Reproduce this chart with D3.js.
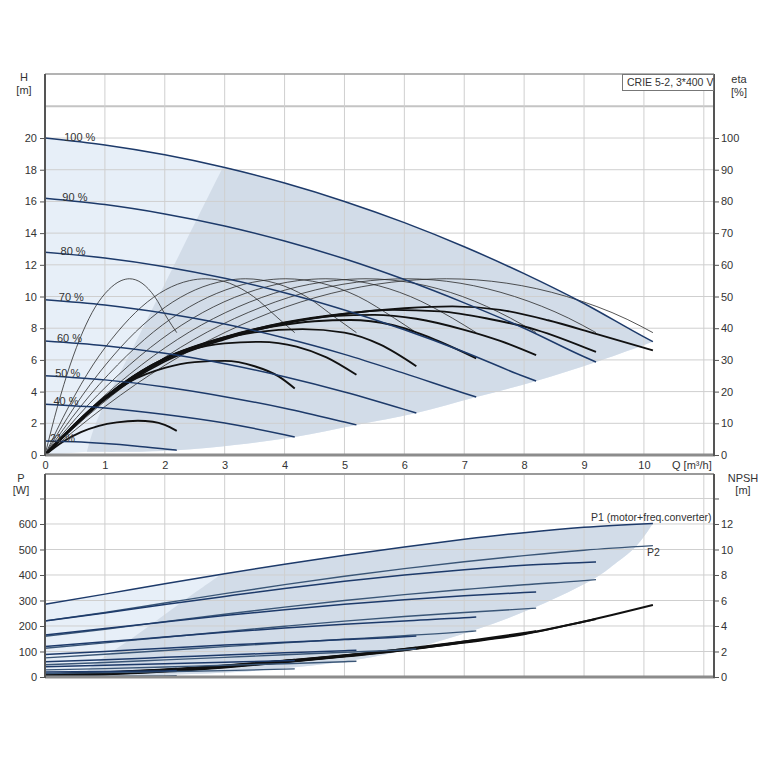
<!DOCTYPE html>
<html><head><meta charset="utf-8">
<script src="https://cdn.jsdelivr.net/npm/d3@7"></script>
<style>
body{margin:0;background:#fff}
svg{display:block}
text{font-family:"Liberation Sans",Arial,sans-serif;fill:#333}
</style>
</head><body>
<svg id="c" width="760" height="760"></svg>
<script>
// ---------------- DATA ----------------
const speedLabels = ["100 %","90 %","80 %","70 %","60 %","50 %","40 %","21 %"];
const speedPct = [100,90,80,70,60,50,40,21];
const qTicks = [0,1,2,3,4,5,6,7,8,9,10];
const hTicks = [0,2,4,6,8,10,12,14,16,18,20];
const etaTicks = [0,10,20,30,40,50,60,70,80,90,100];
const pTicks = [0,100,200,300,400,500,600,700];
const npshTicks = [0,2,4,6,8,10,12,14];
const titleText = "CRIE 5-2, 3*400 V";

// Q-H curves [Q m3/h, H m]
const qhCurves = [
 [[0,20],[1,19.56],[2,18.94],[3,18.14],[4,17.16],[5,16.0],[6,14.66],[7,13.14],[8,11.44],[9,9.56],[10,7.45],[10.15,7.15]],
 [[0,16.2],[1,15.8],[2,15.21],[3,14.45],[4,13.5],[5,12.38],[6,11.07],[7,9.6],[8,8.0],[9,6.2],[9.2,5.87]],
 [[0,12.8],[1,12.43],[2,11.88],[3,11.15],[4,10.24],[5,9.15],[6,7.9],[7,6.5],[8,4.95],[8.2,4.67]],
 [[0,9.8],[1,9.47],[2,8.95],[3,8.26],[4,7.38],[5,6.35],[6,5.15],[7,3.9],[7.2,3.66]],
 [[0,7.2],[1,6.9],[2,6.42],[3,5.76],[4,4.94],[5,3.98],[6,2.88],[6.2,2.65]],
 [[0,5.0],[1,4.74],[2,4.29],[3,3.68],[4,2.95],[5,2.08],[5.2,1.9]],
 [[0,3.2],[1,2.97],[2,2.56],[3,2.02],[4,1.28],[4.17,1.14]],
 [[0,0.88],[0.5,0.83],[1,0.72],[1.5,0.57],[2,0.38],[2.2,0.3]]
];
// pump efficiency (thin) [Q, eta %]
const etaPumpCurves = [
 [[0,0],[1.01,15.4],[2.01,28.4],[3.02,38.8],[4.02,46.7],[5.03,52.1],[6.03,55.0],[6.7,55.6],[7.71,54.2],[8.71,50.0],[9.72,42.8],[10.15,38.6]],
 [[0,0],[0.9,15.4],[1.81,28.4],[2.71,38.8],[3.62,46.7],[4.52,52.1],[5.43,55.0],[6.03,55.6],[6.93,54.2],[7.84,50.0],[8.74,43.2],[9.2,38.6]],
 [[0,0],[0.8,15.4],[1.61,28.4],[2.41,38.8],[3.22,46.7],[4.02,52.1],[4.82,55.0],[5.36,55.6],[6.16,54.2],[6.97,50.0],[7.77,43.2],[8.2,38.6]],
 [[0,0],[0.7,15.4],[1.41,28.4],[2.11,38.8],[2.81,46.7],[3.52,52.1],[4.22,55.0],[4.69,55.6],[5.39,54.2],[6.1,50.0],[6.8,43.2],[7.2,38.6]],
 [[0,0],[0.6,15.4],[1.21,28.4],[1.81,38.8],[2.41,46.7],[3.02,52.1],[3.62,55.0],[4.02,55.6],[4.62,54.2],[5.23,50.0],[5.83,43.2],[6.2,38.6]],
 [[0,0],[0.5,15.4],[1.01,28.4],[1.51,38.8],[2.01,46.7],[2.51,52.1],[3.02,55.0],[3.35,55.6],[3.85,54.2],[4.36,50.0],[4.86,43.2],[5.2,38.6]],
 [[0,0],[0.4,15.4],[0.8,28.4],[1.21,38.8],[1.61,46.7],[2.01,52.1],[2.41,55.0],[2.68,55.6],[3.08,54.2],[3.48,50.0],[3.89,43.2],[4.17,38.6]],
 [[0,0],[0.21,15.4],[0.42,28.4],[0.63,38.8],[0.84,46.7],[1.06,52.1],[1.27,55.0],[1.41,55.6],[1.62,54.2],[1.83,50.0],[2.04,43.2],[2.2,38.6]]
];
// total efficiency (thick) [Q, eta %]
const etaTotalCurves = [
 [[0,0],[1,17.5],[2,29.5],[3,36.5],[4,41.5],[5,44.5],[6,46.3],[6.8,46.9],[7.6,45.8],[8.4,42.5],[9.2,38.2],[10.15,33]],
 [[0,0],[1,17.8],[2,30],[3,37],[4,41.8],[5,44.6],[5.8,45.8],[6.6,45.3],[7.4,43],[8.2,39.5],[9.2,32.5]],
 [[0,0],[1,18],[2,30.3],[3,37.2],[4,41.7],[4.8,43.8],[5.5,44.2],[6.2,43],[7,39.5],[7.6,36],[8.2,31.5]],
 [[0,0],[1,18.2],[2,30.5],[3,37.2],[3.8,40.5],[4.5,42.2],[5.1,42.6],[5.8,41],[6.5,36.5],[7.2,30.5]],
 [[0,0],[1,18.3],[2,30.5],[2.8,35.8],[3.5,38.7],[4.3,39.7],[5,38.6],[5.6,34.8],[6.2,28]],
 [[0,0],[1,18.2],[1.8,28.5],[2.4,33],[3,35.2],[3.6,35.7],[4.2,34.2],[4.7,30.8],[5.2,25.3]],
 [[0,0],[0.8,15],[1.4,23],[2,27.5],[2.5,29.3],[3,29.7],[3.5,28],[3.9,24.8],[4.17,21]],
 [[0,0],[0.3,4.2],[0.6,7.2],[0.9,9.2],[1.2,10.3],[1.55,10.8],[1.8,10.5],[2.0,9.5],[2.2,7.6]]
];
// shaded operating range, H chart
const hLowerEdge = [[10.15,7.15],[9.2,5.87],[8.2,4.67],[7.2,3.66],[6.2,2.65],[5.2,1.9],[4.17,1.14],[3.2,0.65],[2.2,0.3],[1.4,0.2],[0.7,0.2]];
const hDiagEdge = [[2.97,18.16],[2.5,14.6],[2.0,10.8],[1.5,7.0],[1.0,3.3],[0.8,1.5],[0.7,0.2]];

// P1 (motor+freq.converter) and P2 [Q, W]
const p1Curves = [
 [[0,285],[1,325],[2,366],[3,405],[4,442],[5,477],[6,510],[7,540],[8,566],[9,587],[10.15,602]],
 [[0,220],[1,251],[2,284],[3,316],[4,347],[5,375],[6,400],[7,421],[8,438],[9,449],[9.2,451]],
 [[0,165],[1,190],[2,216],[3,241],[4,264],[5,285],[6,303],[7,319],[8,331],[8.2,333]],
 [[0,120],[1,138],[2,157],[3,175],[4,192],[5,207],[6,220],[7,232],[7.2,235]],
 [[0,88],[1,100],[2,113],[3,125],[4,136],[5,147],[6,158],[6.2,161]],
 [[0,60],[1,68],[2,77],[3,86],[4,95],[5,103],[5.2,105]],
 [[0,40],[1,46],[2,52],[3,58],[4,64],[4.17,65]],
 [[0,20],[1,22],[2,24],[2.2,25]]
];
const p2Curves = [
 [[0,220],[1,253],[2,290],[3,327],[4,362],[5,395],[6,425],[7,452],[8,476],[9,497],[10.15,515]],
 [[0,160],[1,187],[2,217],[3,246],[4,274],[5,300],[6,323],[7,343],[8,362],[9,378],[9.2,382]],
 [[0,113],[1,134],[2,156],[3,178],[4,199],[5,219],[6,237],[7,253],[8,267],[8.2,270]],
 [[0,75],[1,89],[2,104],[3,119],[4,134],[5,148],[6,162],[7,177],[7.2,181]],
 [[0,48],[1,57],[2,67],[3,77],[4,87],[5,97],[6,107],[6.2,110]],
 [[0,28],[1,33],[2,39],[3,46],[4,52],[5,60],[5.2,62]],
 [[0,14],[1,17],[2,21],[3,25],[4,31],[4.17,32]],
 [[0,2],[1,3],[2,4.5],[2.2,5]]
];
// NPSH [Q, m]
const npshCurves = [
 [[0,0.05],[1,0.2],[2,0.42],[3,0.75],[4,1.15],[5,1.6],[6,2.1],[7,2.7],[8,3.35],[9,4.35],[10.15,5.65]],
 [[0,0.08],[1,0.22],[2,0.45],[3,0.78],[4,1.18],[5,1.63],[6,2.12],[7,2.72],[8,3.4],[9.2,4.55]],
 [[0,0.1],[1,0.25],[2,0.48],[3,0.8],[4,1.2],[5,1.65],[6,2.15],[7,2.78],[8.2,3.6]],
 [[0,0.12],[1,0.28],[2,0.5],[3,0.83],[4,1.22],[5,1.68],[6,2.2],[7.2,2.9]],
 [[0,0.15],[1,0.3],[2,0.52],[3,0.85],[4,1.25],[5,1.7],[6.2,2.3]],
 [[0,0.18],[1,0.32],[2,0.55],[3,0.88],[4,1.28],[5.2,1.8]],
 [[0,0.2],[1,0.35],[2,0.58],[3,0.9],[4.17,1.35]],
 [[0,0.22],[1,0.38],[2,0.6],[2.2,0.65]]
];
// shaded operating range, power chart
const pLowerEdge = [[10.15,602],[9.88,515],[9.55,450],[9.2,390],[8.2,275],[7.2,186],[6.2,116],[5.2,68],[4.17,38],[3.2,20],[2.2,10],[1.2,5],[0.65,5]];
const pDiagEdge = [[2.95,404],[2.5,330],[2.0,245],[1.5,160],[1.0,80],[0.75,35],[0.65,5]];

// ---------------- DRAW ----------------
const svg = d3.select("#c");
const L = 45, R = 714;
const xQ = d3.scaleLinear().domain([0, 11.17]).range([L, R]);
const yH = d3.scaleLinear().domain([0, 24.04]).range([455, 74]);
const yEta = d3.scaleLinear().domain([0, 120.2]).range([455, 74]);
const yP = d3.scaleLinear().domain([0, 796]).range([677, 474]);
const yN = d3.scaleLinear().domain([0, 15.92]).range([677, 474]);

const lightFill = "#e7eff8", darkFill = "#d2dce8";
const blue = "#1d3a6a", blue2 = "#3a5677";

function lineFn(ys, curve){ return d3.line().x(d=>xQ(d[0])).y(d=>ys(d[1])).curve(curve||d3.curveMonotoneX); }
function cont(path){ return path.replace(/^M/, "L"); }

function shading(g, ys, top, lower, diag){
  const mono = lineFn(ys);
  const cr = lineFn(ys, d3.curveCatmullRom.alpha(0.5));
  // light whole range
  const light = mono(top) + cont(cr(lower)) + "L" + xQ(0) + "," + ys(0) + "Z";
  g.append("path").attr("d", light).attr("fill", lightFill);
  // dark region
  const topPart = [diag[0]].concat(top.filter(d => d[0] > diag[0][0] + 0.01));
  const dark = mono(topPart) + cont(cr(lower)) + cont(cr(diag.slice().reverse())) + "Z";
  g.append("path").attr("d", dark).attr("fill", darkFill);
}

// --- top chart
const gTop = svg.append("g");
shading(gTop, yH, qhCurves[0], hLowerEdge, hDiagEdge);
// grid
const hGrid = hTicks.concat([22]);
gTop.selectAll(".hg").data(hGrid).join("line")
  .attr("x1", L).attr("x2", R).attr("y1", d=>yH(d)).attr("y2", d=>yH(d))
  .attr("stroke", d => d===22 ? "#c4c4c4" : "#cfcfcf").attr("stroke-width", d => d===22 ? 2 : 1);
gTop.selectAll(".vg").data(qTicks.concat([11])).join("line")
  .attr("x1", d=>xQ(d)).attr("x2", d=>xQ(d)).attr("y1", 74).attr("y2", 455)
  .attr("stroke", "#cfcfcf").attr("stroke-width", 1);

// curves
const lH = lineFn(yH), lE = lineFn(yEta);
gTop.selectAll(".ep").data(etaPumpCurves).join("path")
  .attr("d", lE).attr("fill","none").attr("stroke","#2a2a2a").attr("stroke-width",0.8);
gTop.selectAll(".et").data(etaTotalCurves).join("path")
  .attr("d", lE).attr("fill","none").attr("stroke","#111").attr("stroke-width",1.9);
gTop.selectAll(".qh").data(qhCurves).join("path")
  .attr("d", lH).attr("fill","none").attr("stroke",blue).attr("stroke-width",1.5);

// speed labels
gTop.selectAll(".sl").data(speedLabels).join("text")
  .attr("x", (d,i) => xQ(0.32 - (100 - speedPct[i]) * 0.003))
  .attr("y", (d,i) => yH(qhCurves[i][0][1]) + (speedPct[i] >= 80 ? 3 : 1))
  .attr("font-size", 11).text(d=>d);

// frame
gTop.append("line").attr("x1",L).attr("x2",R).attr("y1",74).attr("y2",74).attr("stroke","#9a9a9a").attr("stroke-width",1.5);
gTop.append("line").attr("x1",L).attr("x2",R+1).attr("y1",455).attr("y2",455).attr("stroke","#8c8c8c").attr("stroke-width",3);
gTop.append("line").attr("x1",L).attr("x2",L).attr("y1",74).attr("y2",456).attr("stroke","#555").attr("stroke-width",2);
gTop.append("line").attr("x1",R).attr("x2",R).attr("y1",74).attr("y2",456).attr("stroke","#555").attr("stroke-width",2);

// axes
function styleAxis(g){
  g.select(".domain").remove();
  g.selectAll(".tick line").attr("stroke","#555");
  g.selectAll(".tick text").attr("font-size",11).attr("fill","#333")
    .attr("font-family",'"Liberation Sans",Arial,sans-serif');
}
svg.append("g").attr("transform",`translate(${L},0)`)
  .call(d3.axisLeft(yH).tickValues(hTicks).tickSize(5).tickPadding(3)).call(styleAxis);
svg.append("g").attr("transform",`translate(${R},0)`)
  .call(d3.axisRight(yEta).tickValues(etaTicks).tickSize(5).tickPadding(2)).call(styleAxis);
svg.append("g").attr("transform",`translate(0,455)`)
  .call(d3.axisBottom(xQ).tickValues(qTicks).tickSize(0).tickPadding(6)).call(styleAxis);
svg.append("text").attr("x", 672).attr("y", 469).attr("font-size", 11).text("Q [m³/h]");

// axis titles
svg.append("text").attr("x",24).attr("y",81).attr("text-anchor","middle").attr("font-size",11).text("H");
svg.append("text").attr("x",24).attr("y",94).attr("text-anchor","middle").attr("font-size",11).text("[m]");
svg.append("text").attr("x",739).attr("y",83).attr("text-anchor","middle").attr("font-size",11).text("eta");
svg.append("text").attr("x",739).attr("y",96).attr("text-anchor","middle").attr("font-size",11).text("[%]");

// title box
svg.append("rect").attr("x",622.5).attr("y",74.5).attr("width",91).attr("height",16)
  .attr("fill","#fff").attr("stroke","#777").attr("stroke-width",1);
svg.append("text").attr("x",627).attr("y",86).attr("font-size",10.5).text(titleText);

// --- bottom chart
const gBot = svg.append("g");
shading(gBot, yP, p1Curves[0], pLowerEdge, pDiagEdge);
gBot.selectAll(".pg").data(pTicks).join("line")
  .attr("x1", L).attr("x2", R).attr("y1", d=>yP(d)).attr("y2", d=>yP(d))
  .attr("stroke","#cfcfcf").attr("stroke-width",1);
gBot.selectAll(".vg2").data(qTicks.concat([11])).join("line")
  .attr("x1", d=>xQ(d)).attr("x2", d=>xQ(d)).attr("y1", 474).attr("y2", 677)
  .attr("stroke","#cfcfcf").attr("stroke-width",1);

const lP = lineFn(yP), lN = lineFn(yN);
gBot.selectAll(".np").data(npshCurves).join("path")
  .attr("d", lN).attr("fill","none").attr("stroke","#111").attr("stroke-width",1.9);
gBot.selectAll(".p2").data(p2Curves).join("path")
  .attr("d", lP).attr("fill","none").attr("stroke",blue2).attr("stroke-width",1.4);
gBot.selectAll(".p1").data(p1Curves).join("path")
  .attr("d", lP).attr("fill","none").attr("stroke",blue).attr("stroke-width",1.5);

gBot.append("text").attr("x",591).attr("y",521).attr("font-size",10.5).text("P1 (motor+freq.converter)");
gBot.append("text").attr("x",647).attr("y",556).attr("font-size",10.5).text("P2");

gBot.append("line").attr("x1",L).attr("x2",R).attr("y1",474).attr("y2",474).attr("stroke","#9a9a9a").attr("stroke-width",2);
gBot.append("line").attr("x1",L).attr("x2",R+1).attr("y1",677).attr("y2",677).attr("stroke","#8c8c8c").attr("stroke-width",3);
gBot.append("line").attr("x1",L).attr("x2",L).attr("y1",474).attr("y2",678).attr("stroke","#555").attr("stroke-width",2);
gBot.append("line").attr("x1",R).attr("x2",R).attr("y1",474).attr("y2",678).attr("stroke","#555").attr("stroke-width",2);

svg.append("g").attr("transform",`translate(${L},0)`)
  .call(d3.axisLeft(yP).tickValues(pTicks).tickSize(5).tickPadding(3).tickFormat(d => d===700 ? "" : d)).call(styleAxis);
svg.append("g").attr("transform",`translate(${R},0)`)
  .call(d3.axisRight(yN).tickValues(npshTicks).tickSize(5).tickPadding(2).tickFormat(d => d===14 ? "" : d)).call(styleAxis);

svg.append("text").attr("x",21).attr("y",482).attr("text-anchor","middle").attr("font-size",11).text("P");
svg.append("text").attr("x",21).attr("y",494).attr("text-anchor","middle").attr("font-size",11).text("[W]");
svg.append("text").attr("x",743).attr("y",482).attr("text-anchor","middle").attr("font-size",11).text("NPSH");
svg.append("text").attr("x",743).attr("y",494).attr("text-anchor","middle").attr("font-size",11).text("[m]");
</script>
</body></html>
